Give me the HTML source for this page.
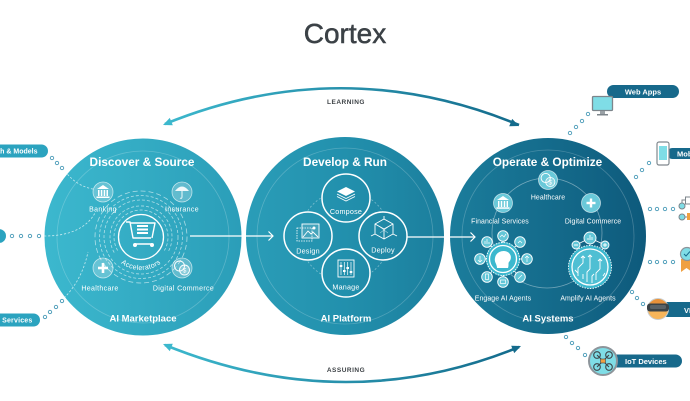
<!DOCTYPE html>
<html><head><meta charset="utf-8">
<style>
html,body{margin:0;padding:0;background:#fff;}
svg{display:block;font-family:"Liberation Sans",sans-serif;}
.hd{font-size:11.8px;font-weight:bold;fill:#fff;}
.ft{font-size:9.5px;font-weight:bold;fill:#fff;}
.l1{font-size:7px;fill:#fff;letter-spacing:.35px;}
.l2{font-size:6.9px;fill:#fff;letter-spacing:.1px;}
.l3{font-size:7.2px;fill:#fff;letter-spacing:.2px;}
.pl{font-size:7.5px;font-weight:bold;fill:#fff;}
.pls{font-size:7px;font-weight:bold;fill:#fff;}
.dot{fill:#fff;stroke:#4a9bb8;stroke-width:.9;}
.ic{fill:rgba(255,255,255,.24);stroke:rgba(255,255,255,.65);stroke-width:.8;}
.w{fill:none;stroke:#fff;stroke-width:.9;}
.wf{fill:#fff;}
.dsh{fill:none;stroke:rgba(255,255,255,.7);stroke-width:.8;stroke-dasharray:2.2 1.8;}
</style></head><body>
<svg width="690" height="401" viewBox="0 0 690 401" xmlns="http://www.w3.org/2000/svg">
<defs>
<linearGradient id="bg" gradientUnits="userSpaceOnUse" x1="45" y1="0" x2="645" y2="0">
<stop offset="0" stop-color="#3cb8ce"/>
<stop offset="0.5" stop-color="#2290ad"/>
<stop offset="1" stop-color="#0e5a7c"/>
</linearGradient>
<linearGradient id="arc" gradientUnits="userSpaceOnUse" x1="165" y1="0" x2="520" y2="0">
<stop offset="0" stop-color="#3cb8cd"/>
<stop offset="1" stop-color="#136a8b"/>
</linearGradient>
<path id="accPath" d="M108,237 A33,33 0 0 0 174,237"/>
</defs>

<!-- Title -->
<text x="345" y="43" text-anchor="middle" font-size="28" fill="#3b4146" stroke="#3b4146" stroke-width=".5">Cortex</text>

<!-- Top arc -->
<path d="M165,124 Q342,52 519,125" fill="none" stroke="url(#arc)" stroke-width="2.6"/>
<polygon points="163,125 172.8,125.3 169.8,117.9" fill="#3cb8cd"/>
<polygon points="519,126 509.2,126.3 512.2,118.9" fill="#146b8c"/>
<text x="346" y="104" text-anchor="middle" font-size="6.5" font-weight="bold" fill="#3d4246" letter-spacing=".5">LEARNING</text>

<!-- Bottom arc -->
<path d="M165,345 Q345,418 519,347" fill="none" stroke="url(#arc)" stroke-width="2.6"/>
<polygon points="163,344 169.8,351.1 172.8,343.7" fill="#3cb8cd"/>
<polygon points="521,346 514.2,353.1 511.2,345.7" fill="#146b8c"/>
<text x="346" y="372" text-anchor="middle" font-size="6.5" font-weight="bold" fill="#3d4246" letter-spacing=".5">ASSURING</text>

<!-- Big circles -->
<circle cx="143" cy="237" r="98.5" fill="url(#bg)"/>
<circle cx="345" cy="236" r="99" fill="url(#bg)"/>
<circle cx="548" cy="236" r="98" fill="url(#bg)"/>
<circle cx="143" cy="237" r="86" fill="none" stroke="rgba(255,255,255,.22)" stroke-width=".8"/>
<circle cx="345" cy="236" r="88" fill="none" stroke="rgba(255,255,255,.22)" stroke-width=".8"/>
<circle cx="548" cy="236" r="86" fill="none" stroke="rgba(255,255,255,.22)" stroke-width=".8"/>

<!-- Left pills + dots -->
<rect x="-20" y="144.5" width="68" height="13" rx="6.5" fill="#2ba3bf"/>
<text x="37.5" y="153.5" text-anchor="end" class="pls">Math &amp; Models</text>
<rect x="-20" y="229" width="26" height="14" rx="7" fill="#2ba3bf"/>
<rect x="-20" y="313.5" width="60" height="13" rx="6.5" fill="#2ba3bf"/>
<text x="32.5" y="322.5" text-anchor="end" class="pls" letter-spacing=".2">Services</text>
<g>
<circle class="dot" cx="52" cy="158" r="1.7"/><circle class="dot" cx="57" cy="163" r="1.7"/><circle class="dot" cx="62" cy="168" r="1.7"/>
<circle class="dot" cx="12" cy="236" r="1.7"/><circle class="dot" cx="21" cy="236" r="1.7"/><circle class="dot" cx="30" cy="236" r="1.7"/><circle class="dot" cx="39" cy="236" r="1.7"/>
<circle class="dot" cx="45" cy="317" r="1.7"/><circle class="dot" cx="50" cy="312" r="1.7"/><circle class="dot" cx="56" cy="307" r="1.7"/><circle class="dot" cx="62" cy="301" r="1.7"/>
</g>

<!-- Left circle content -->
<text x="142" y="166" text-anchor="middle" class="hd">Discover &amp; Source</text>
<text x="143" y="321.5" text-anchor="middle" class="ft">AI Marketplace</text>
<path class="dsh" d="M65,171 Q76,186 93,189"/>
<path class="dsh" d="M44,236 Q82,236 95,213"/>
<path class="dsh" d="M64,298 Q82,280 88,252"/>

<!-- concentric dashed arcs -->
<g fill="none" stroke="rgba(255,255,255,.6)" stroke-width=".8" stroke-dasharray="3 2">
<path d="M117.6,250.5 A27,27 0 1 1 164.4,250.5"/>
<path d="M114.2,252.5 A31,31 0 1 1 167.8,252.5"/>
<circle cx="141" cy="237" r="37"/>
<circle cx="141" cy="237" r="41.5"/>
<circle cx="141" cy="237" r="46" stroke-dasharray="5 3"/>
</g>
<circle cx="141" cy="237" r="22.5" fill="url(#bg)" stroke="#fff" stroke-width="1.3"/>
<!-- cart -->
<g fill="none" stroke="#fff" stroke-width="1.4" stroke-linejoin="round">
<path d="M126,222 H130 L133,238 H151"/>
<path d="M130,223 H155 L152,238"/>
<path d="M135,244 H152"/>
</g>
<circle cx="135" cy="245" r="2" class="wf"/><circle cx="152" cy="245" r="2" class="wf"/>
<rect x="137" y="225" width="11" height="2" class="wf"/>
<rect x="137" y="228.5" width="11" height="2" class="wf"/>
<rect x="137" y="232" width="11" height="2" class="wf"/>
<text class="l1" font-size="7" text-anchor="middle"><textPath href="#accPath" startOffset="50%">Accelerators</textPath></text>

<!-- Banking -->
<g transform="translate(103,192)">
<circle r="10" class="ic"/>
<path d="M-6,-3 L0,-7 L6,-3 Z" class="wf"/>
<rect x="-5" y="-2" width="1.5" height="6" class="wf"/><rect x="-2.2" y="-2" width="1.5" height="6" class="wf"/>
<rect x="0.7" y="-2" width="1.5" height="6" class="wf"/><rect x="3.5" y="-2" width="1.5" height="6" class="wf"/>
<rect x="-6.5" y="4.5" width="13" height="1.5" class="wf"/>
</g>
<text x="103" y="211.5" text-anchor="middle" class="l1">Banking</text>
<!-- Insurance -->
<g transform="translate(182,192)">
<circle r="10" class="ic"/>
<path d="M-7,-1 Q0,-10 7,-1 Z" class="wf" opacity=".9"/>
<path d="M0,-1 V5 Q0,7 -2,6" class="w"/>
</g>
<text x="182" y="211.5" text-anchor="middle" class="l1">Insurance</text>
<!-- Healthcare -->
<g transform="translate(103,268)">
<circle r="10" class="ic"/>
<rect x="-1.3" y="-5" width="2.6" height="10" class="wf"/><rect x="-5" y="-1.3" width="10" height="2.6" class="wf"/>
</g>
<text x="100" y="290.5" text-anchor="middle" class="l1">Healthcare</text>
<!-- Digital commerce coins -->
<g transform="translate(182,268)">
<circle r="10" class="ic"/>
<circle cx="-2.5" cy="-2" r="5" class="w"/>
<circle cx="2.5" cy="2" r="5" fill="rgba(255,255,255,.25)" stroke="#fff" stroke-width=".9"/>
<text x="2.5" y="4.5" text-anchor="middle" font-size="6.5" fill="#fff">$</text>
</g>
<text x="183.5" y="290.5" text-anchor="middle" class="l1">Digital Commerce</text>

<!-- connectors between circles -->
<path d="M190,236 H273" stroke="#fff" stroke-width="1.2" fill="none"/>
<path d="M268.5,231.5 L273,236 L268.5,240.5" stroke="#fff" stroke-width="1.2" fill="none"/>
<path d="M407,237 H475" stroke="#fff" stroke-width="1.2" fill="none"/>
<path d="M470.5,232.5 L475,237 L470.5,241.5" stroke="#fff" stroke-width="1.2" fill="none"/>

<!-- Middle circle content -->
<text x="345" y="166" text-anchor="middle" class="hd">Develop &amp; Run</text>
<text x="346" y="321.5" text-anchor="middle" class="ft">AI Platform</text>
<circle cx="345" cy="236" r="45" fill="none" stroke="rgba(255,255,255,.4)" stroke-width=".8" stroke-dasharray="2 2"/>
<circle cx="346" cy="198" r="24" fill="url(#bg)" stroke="#fff" stroke-width="1.5"/>
<circle cx="308" cy="236" r="24" fill="url(#bg)" stroke="#fff" stroke-width="1.5"/>
<circle cx="383" cy="236" r="24" fill="url(#bg)" stroke="#fff" stroke-width="1.5"/>
<circle cx="346" cy="273" r="24" fill="url(#bg)" stroke="#fff" stroke-width="1.5"/>
<!-- compose icon -->
<g transform="translate(346,194)">
<path d="M0,-7 L9,-2.5 L0,2 L-9,-2.5 Z" class="wf"/>
<path d="M-9,0 L0,4.5 L9,0 M-9,2.5 L0,7 L9,2.5" class="w" stroke-width=".8"/>
</g>
<text x="346" y="214" text-anchor="middle" class="l3">Compose</text>
<!-- design icon -->
<g transform="translate(309,233)">
<rect x="-12" y="-5" width="15" height="13" fill="none" stroke="#fff" stroke-width=".8" stroke-dasharray="1.5 1"/>
<rect x="-7" y="-9" width="17" height="14" fill="rgba(255,255,255,.15)" stroke="#fff" stroke-width=".9"/>
<path d="M-6,4 L-1,-2 L2,1 L4,-1 L9,4" class="w"/>
<circle cx="5" cy="-5" r="1.5" class="wf"/>
</g>
<text x="308" y="253.5" text-anchor="middle" class="l3">Design</text>
<!-- deploy cube -->
<g transform="translate(384,229)">
<path d="M0,-10 L9,-5 L9,5 L0,10 L-9,5 L-9,-5 Z M-9,-5 L0,0 L9,-5 M0,0 V10" class="w" stroke-width=".8"/>
<path d="M0,-10 V-13 M-9,5 L-13,7 M9,5 L13,7" class="w" stroke-width=".8"/>
<path d="M-4,-2 L4,4 M4,-2 L-4,4" fill="none" stroke="rgba(255,255,255,.6)" stroke-width=".6"/>
</g>
<text x="383" y="252.5" text-anchor="middle" class="l3">Deploy</text>
<!-- manage sliders -->
<g transform="translate(346,269)">
<rect x="-8" y="-9" width="16" height="17" class="w"/>
<path d="M-5,-7 V6 M-1.7,-7 V6 M1.7,-7 V6 M5,-7 V6" fill="none" stroke="#fff" stroke-width=".7"/>
<rect x="-6.3" y="-4" width="2.6" height="2" class="wf"/><rect x="-3" y="1" width="2.6" height="2" class="wf"/>
<rect x="0.4" y="-2" width="2.6" height="2" class="wf"/><rect x="3.7" y="2" width="2.6" height="2" class="wf"/>
</g>
<text x="346" y="289.5" text-anchor="middle" class="l3">Manage</text>

<!-- Right circle content -->
<text x="547.5" y="166" text-anchor="middle" class="hd">Operate &amp; Optimize</text>
<text x="548" y="321.5" text-anchor="middle" class="ft">AI Systems</text>
<circle cx="547" cy="233" r="55" fill="none" stroke="rgba(255,255,255,.4)" stroke-width=".8"/>

<!-- Healthcare (coins) -->
<g transform="translate(548,180)">
<circle r="9.5" fill="url(#bg)"/><circle r="9.5" class="ic"/>
<circle cx="-2.3" cy="-2" r="4.6" class="w" stroke-width=".8"/>
<circle cx="2.3" cy="2" r="4.6" fill="rgba(255,255,255,.25)" stroke="#fff" stroke-width=".8"/>
<text x="2.3" y="4.3" text-anchor="middle" font-size="6" fill="#fff">$</text>
</g>
<text x="548" y="199.5" text-anchor="middle" class="l2">Healthcare</text>
<!-- Financial services -->
<g transform="translate(503,203)">
<circle r="9.5" fill="url(#bg)"/><circle r="9.5" class="ic"/>
<path d="M-6,-3 L0,-7 L6,-3 Z" class="wf"/>
<rect x="-5" y="-2" width="1.4" height="6" class="wf"/><rect x="-2.2" y="-2" width="1.4" height="6" class="wf"/>
<rect x="0.8" y="-2" width="1.4" height="6" class="wf"/><rect x="3.6" y="-2" width="1.4" height="6" class="wf"/>
<rect x="-6.5" y="4.3" width="13" height="1.5" class="wf"/>
</g>
<text x="500" y="223.5" text-anchor="middle" class="l2">Financial Services</text>
<!-- Digital commerce plus -->
<g transform="translate(591,203)">
<circle r="9.5" fill="url(#bg)"/><circle r="9.5" class="ic"/>
<rect x="-1.2" y="-4.5" width="2.4" height="9" class="wf"/><rect x="-4.5" y="-1.2" width="9" height="2.4" class="wf"/>
</g>
<text x="593" y="223.5" text-anchor="middle" class="l2">Digital Commerce</text>

<!-- Engage cluster -->
<g transform="translate(503,259)">
<circle r="17" fill="url(#bg)"/>
<g stroke="#fff" stroke-width=".8">
<line x1="0" y1="-23" x2="0" y2="0"/><line x1="-16" y1="-17" x2="0" y2="0"/><line x1="17" y1="-17" x2="0" y2="0"/>
<line x1="-23" y1="0" x2="0" y2="0"/><line x1="24" y1="0" x2="0" y2="0"/>
<line x1="-16" y1="18" x2="0" y2="0"/><line x1="0" y1="23" x2="0" y2="0"/><line x1="17" y1="18" x2="0" y2="0"/>
</g>
<circle r="16.5" fill="url(#bg)" stroke="#fff" stroke-width=".9" stroke-dasharray="1.5 1.2"/>
<circle r="13.5" fill="url(#bg)" stroke="#fff" stroke-width="1.3"/>
<path d="M-6,9 C-6,5 -9,3 -8,-1 C-7,-8 2,-10 6,-6 C9,-3 8,1 6,3 C5,4 6,6 5,9 Z" class="wf"/>
<g fill="url(#bg)" stroke="#fff" stroke-width=".9">
<circle cx="0" cy="-23" r="5.3"/><circle cx="-16" cy="-17" r="5.3"/><circle cx="17" cy="-17" r="5.3"/>
<circle cx="-23" cy="0" r="5.3"/><circle cx="24" cy="0" r="5.3"/>
<circle cx="-16" cy="18" r="5.3"/><circle cx="0" cy="23" r="5.3"/><circle cx="17" cy="18" r="5.3"/>
</g>
<g fill="rgba(255,255,255,.2)">
<circle cx="0" cy="-23" r="5.3"/><circle cx="-16" cy="-17" r="5.3"/><circle cx="17" cy="-17" r="5.3"/>
<circle cx="-23" cy="0" r="5.3"/><circle cx="24" cy="0" r="5.3"/>
<circle cx="-16" cy="18" r="5.3"/><circle cx="0" cy="23" r="5.3"/><circle cx="17" cy="18" r="5.3"/>
</g>
<g fill="none" stroke="#fff" stroke-width=".7">
<path d="M-3,-22 L-1,-24 L1,-22 L3,-25"/>
<path d="M-18,-15 V-18 M-16,-15 V-20 M-14,-15 V-17"/>
<path d="M15,-16 L17,-18 L19,-16"/>
<path d="M-23,-3 V3 M-25,1 L-23,3 L-21,1"/>
<path d="M24,3 V-3 M22,-1 L24,-3 L26,-1"/>
<rect x="-17.5" y="15" width="3" height="5.5"/>
<rect x="-2.5" y="21" width="5" height="3.5"/>
<path d="M15,20 L19,16"/>
</g>
</g>
<text x="503" y="300.5" text-anchor="middle" class="l2">Engage AI Agents</text>

<!-- Amplify cluster -->
<g transform="translate(590,267)">
<g stroke="#fff" stroke-width=".8">
<line x1="0" y1="-29" x2="0" y2="-21"/><line x1="-14" y1="-22" x2="0" y2="-29"/><line x1="15" y1="-22" x2="0" y2="-29"/>
</g>
<circle r="21.5" fill="url(#bg)" stroke="#fff" stroke-width=".9" stroke-dasharray="1.5 1.2"/>
<circle r="18" fill="rgba(255,255,255,.1)" stroke="#fff" stroke-width="1.3"/>
<g fill="none" stroke="#fff" stroke-width=".9">
<path d="M-12,9 V1 L-7,-4 V-11 M-9,-9 L-7,-11 L-5,-9"/>
<path d="M-3,15 V5 L0,2 V-12 M-2,-10 L0,-12 L2,-10"/>
<path d="M6,13 V6 L10,2 V-8 M8,-6 L10,-8 L12,-6"/>
<path d="M-15,3 L-12,6"/>
<path d="M2,16 V9 L4,7"/>
<path d="M13,9 L15,6"/>
<path d="M-7,12 V7"/>
</g>
<g fill="url(#bg)" stroke="#fff" stroke-width=".9">
<circle cx="0" cy="-29" r="6"/><circle cx="-14" cy="-22" r="4"/><circle cx="15" cy="-22" r="4"/>
</g>
<g fill="rgba(255,255,255,.2)"><circle cx="0" cy="-29" r="6"/><circle cx="-14" cy="-22" r="4"/><circle cx="15" cy="-22" r="4"/></g>
<path d="M-2,-27 V-29 M0,-27 V-32 M2,-27 V-30" stroke="#fff" stroke-width=".8"/>
<path d="M-16,-22 H-12 M13,-22 H17 M15,-24 V-20" stroke="#fff" stroke-width=".9"/>
</g>
<text x="588" y="300.5" text-anchor="middle" class="l2">Amplify AI Agents</text>

<!-- Right side dots -->
<g>
<circle class="dot" cx="588" cy="114" r="1.7"/><circle class="dot" cx="582" cy="121" r="1.7"/><circle class="dot" cx="576" cy="127" r="1.7"/><circle class="dot" cx="570" cy="133" r="1.7"/>
<circle class="dot" cx="649" cy="163" r="1.7"/><circle class="dot" cx="642" cy="170" r="1.7"/><circle class="dot" cx="636" cy="177" r="1.7"/>
<circle class="dot" cx="650" cy="209" r="1.7"/><circle class="dot" cx="657" cy="209" r="1.7"/><circle class="dot" cx="665" cy="209" r="1.7"/><circle class="dot" cx="673" cy="209" r="1.7"/>
<circle class="dot" cx="650" cy="262" r="1.7"/><circle class="dot" cx="657" cy="262" r="1.7"/><circle class="dot" cx="665" cy="262" r="1.7"/><circle class="dot" cx="673" cy="262" r="1.7"/>
<circle class="dot" cx="632" cy="292" r="1.7"/><circle class="dot" cx="637" cy="298" r="1.7"/><circle class="dot" cx="643" cy="304" r="1.7"/>
<circle class="dot" cx="566" cy="337" r="1.7"/><circle class="dot" cx="572" cy="343" r="1.7"/><circle class="dot" cx="578" cy="348" r="1.7"/><circle class="dot" cx="585" cy="355" r="1.7"/>
</g>

<!-- Web Apps -->
<rect x="607" y="85" width="72" height="13" rx="6.5" fill="#17698b"/>
<text x="643" y="94.3" text-anchor="middle" class="pl">Web Apps</text>
<rect x="592.5" y="96.5" width="20" height="14" rx="1" fill="#7fdde6" stroke="#7d858b" stroke-width="1.3"/>
<rect x="600" y="111" width="5" height="3" fill="#9aa1a6"/>
<rect x="597" y="114" width="11" height="1.5" fill="#7d858b"/>

<!-- Mobile -->
<rect x="667" y="148" width="40" height="11" rx="5.5" fill="#17698b"/>
<text x="677" y="156.3" class="pl">Mobile Apps</text>
<rect x="657" y="142" width="12" height="23" rx="2" fill="#fff" stroke="#80888e" stroke-width="1.2"/>
<rect x="659" y="146" width="8" height="14" fill="#7fdde6"/>

<!-- Workflow icon -->
<g stroke="#7d858b" stroke-width="1">
<path d="M682,206 V200 H686 M682,217 H688" fill="none"/>
<rect x="685.5" y="197" width="8" height="7" fill="#fff"/>
<circle cx="682" cy="206" r="3" fill="#7fdde6"/>
<circle cx="682" cy="217" r="3" fill="#7fdde6"/>
</g>
<rect x="687" y="213" width="5" height="7" fill="#f0a040"/>

<!-- Badge icon -->
<path d="M681,259 H692 V272 L686.5,268 L681,272 Z" fill="#f0a040"/>
<circle cx="687" cy="254" r="6.5" fill="#7fdde6" stroke="#8d959b" stroke-width="1.2"/>
<path d="M684,254 L686,256 L690,251.5" fill="none" stroke="#17698b" stroke-width="1"/>

<!-- VR -->
<rect x="660" y="302" width="50" height="15" rx="7.5" fill="#17698b"/>
<text x="684" y="312.8" class="pl">VR / AR</text>
<circle cx="658" cy="309" r="10.5" fill="#f7b55a" stroke="#c9cdd0" stroke-width="1"/>
<path d="M648,305 Q658,293 668,305 Z" fill="#e8913a"/>
<rect x="647" y="303.5" width="22" height="8" rx="3" fill="#3c4347"/>
<rect x="650" y="305" width="16" height="4" rx="1.5" fill="#5a6267"/>

<!-- IoT -->
<rect x="603" y="354.5" width="79" height="13" rx="6.5" fill="#17698b"/>
<text x="625" y="363.8" class="pl">IoT Devices</text>
<circle cx="603" cy="361" r="14" fill="#7fdde6" stroke="#8d959b" stroke-width="2"/>
<g stroke="#3d4448" stroke-width="1.1" fill="none">
<path d="M597,355 L609,367 M609,355 L597,367"/>
<circle cx="597" cy="355" r="3.3"/><circle cx="609" cy="355" r="3.3"/>
<circle cx="597" cy="367" r="3.3"/><circle cx="609" cy="367" r="3.3"/>
</g>
<rect x="600.5" y="359" width="5" height="4" fill="#f0a040" stroke="#3d4448" stroke-width=".6"/>
</svg>
</body></html>
